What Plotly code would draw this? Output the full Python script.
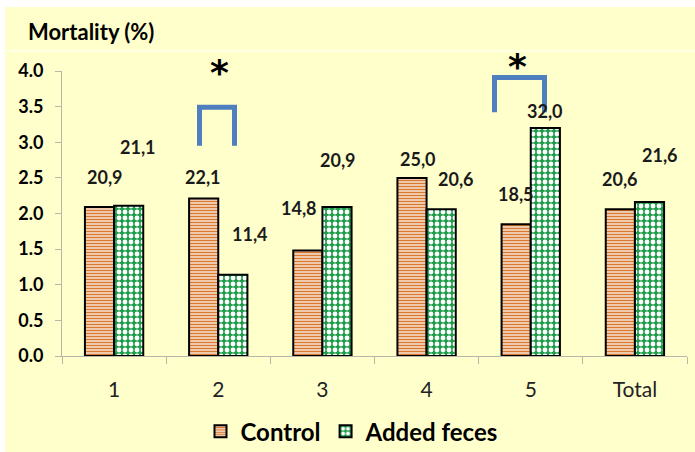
import plotly.graph_objects as go

# Mortality per group, as printed above the bars (%)
categories = ["1", "2", "3", "4", "5", "Total"]
control_pct = [20.9, 22.1, 14.8, 25.0, 18.5, 20.6]
feces_pct = [21.1, 11.4, 20.9, 20.6, 32.0, 21.6]
y_ticks = [0.0, 0.5, 1.0, 1.5, 2.0, 2.5, 3.0, 3.5, 4.0]

# The axis is drawn in tenths of the printed value
control_axis = [v / 10 for v in control_pct]
feces_axis = [v / 10 for v in feces_pct]

# Label placement: (horizontal pixel shift from category centre, axis height)
control_label_pos = [(-9, 2.51), (-15, 2.51), (-23, 2.08), (-9, 2.76), (-15, 2.27), (-15, 2.48)]
feces_label_pos = [(24, 2.93), (32, 1.71), (16, 2.75), (29, 2.48), (14, 3.44), (25, 2.82)]

FONT = "Lato"
BG = "#FFFFCC"
AXIS_COL = "#B8B8A8"
BRACKET_COL = "#4F7FBF"


def fmt(v):
    return f"{v:.1f}".replace(".", ",")


fig = go.Figure()
fig.add_trace(go.Bar(
    x=categories, y=control_axis, name="<b>Control</b>",
    marker=dict(
        color="white",
        line=dict(color="black", width=2),
        pattern=dict(shape="-", fgcolor="#D9782F", bgcolor="white",
                     size=3, solidity=0.6, fillmode="replace"),
    ),
))
fig.add_trace(go.Bar(
    x=categories, y=feces_axis, name="<b>Added feces</b>",
    marker=dict(
        color="white",
        line=dict(color="black", width=2),
        pattern=dict(shape=".", fgcolor="white", bgcolor="#1E9E4A",
                     size=6, solidity=0.5, fillmode="replace"),
    ),
))

annotations = []
for i in range(len(categories)):
    for vals, pos in ((control_pct, control_label_pos), (feces_pct, feces_label_pos)):
        dx, yy = pos[i]
        annotations.append(dict(
            x=i, y=yy, xref="x", yref="y", text=f"<b>{fmt(vals[i])}</b>",
            showarrow=False, xshift=dx, font=dict(family=FONT, size=18, color="#1a1a1a"),
        ))

# Axis title at top-left
annotations.append(dict(
    x=-0.058, y=1.137, xref="paper", yref="paper", xanchor="left", yanchor="middle",
    text="<b>Mortality (%)</b>", showarrow=False,
    font=dict(family=FONT, size=22, color="black"),
))

# Significance markers (placed in paper units so they can sit above the axis top)
for xp, yp in ((0.252, 0.993), (0.728, 1.017)):
    annotations.append(dict(
        x=xp, y=yp, xref="paper", yref="paper", text="<b>*</b>", showarrow=False,
        font=dict(family="DejaVu Sans", size=36, color="black"),
        xanchor="center", yanchor="middle",
    ))

shapes = [
    # page background with a thin white edge at the top and left
    dict(type="rect", xref="paper", yref="paper", x0=-0.0912, x1=1.02, y0=-0.35, y1=1.2246,
         fillcolor=BG, line=dict(width=0), layer="below"),
    dict(type="line", xref="paper", yref="paper", x0=-0.0912, x1=1.02, y0=1.07, y1=1.07,
         line=dict(color="#FFFFE6", width=2), layer="below"),
    # brackets
    dict(type="path", xref="x", yref="y",
         path="M 0.82 2.95 L 0.82 3.49 L 1.156 3.49 L 1.156 2.95",
         line=dict(color=BRACKET_COL, width=5)),
    dict(type="path", xref="x", yref="y",
         path="M 3.652 3.42 L 3.652 3.91 L 4.132 3.91 L 4.132 3.42",
         line=dict(color=BRACKET_COL, width=5)),
]

fig.update_layout(
    width=695, height=452,
    margin=dict(l=62, r=8, t=71, b=96, autoexpand=False),
    paper_bgcolor="white", plot_bgcolor=BG,
    barmode="group", bargap=0.44, bargroupgap=0,
    showlegend=True,
    legend=dict(orientation="h", x=0.464, xanchor="center", y=-0.265, yanchor="middle",
                font=dict(family=FONT, size=24, color="black"), bgcolor="rgba(0,0,0,0)",
                itemwidth=30, traceorder="normal"),
    annotations=annotations, shapes=shapes,
    font=dict(family=FONT),
)
fig.update_xaxes(
    type="category", showline=True, linecolor=AXIS_COL, linewidth=1,
    ticks="outside", tickson="boundaries", ticklen=7, tickcolor=AXIS_COL,
    tickfont=dict(family=FONT, size=21, color="#222222"), ticklabelstandoff=15,
    showgrid=False, zeroline=False, automargin=False,
)
fig.update_yaxes(
    range=[0, 4.0], tickvals=y_ticks, ticktext=[f"<b>{t:.1f}</b>" for t in y_ticks],
    showline=True, linecolor=AXIS_COL, linewidth=1,
    ticks="outside", ticklen=6, tickcolor=AXIS_COL,
    tickfont=dict(family=FONT, size=18, color="black"), ticklabelstandoff=8,
    showgrid=False, zeroline=False, automargin=False,
)

fig.write_html("out.html")
